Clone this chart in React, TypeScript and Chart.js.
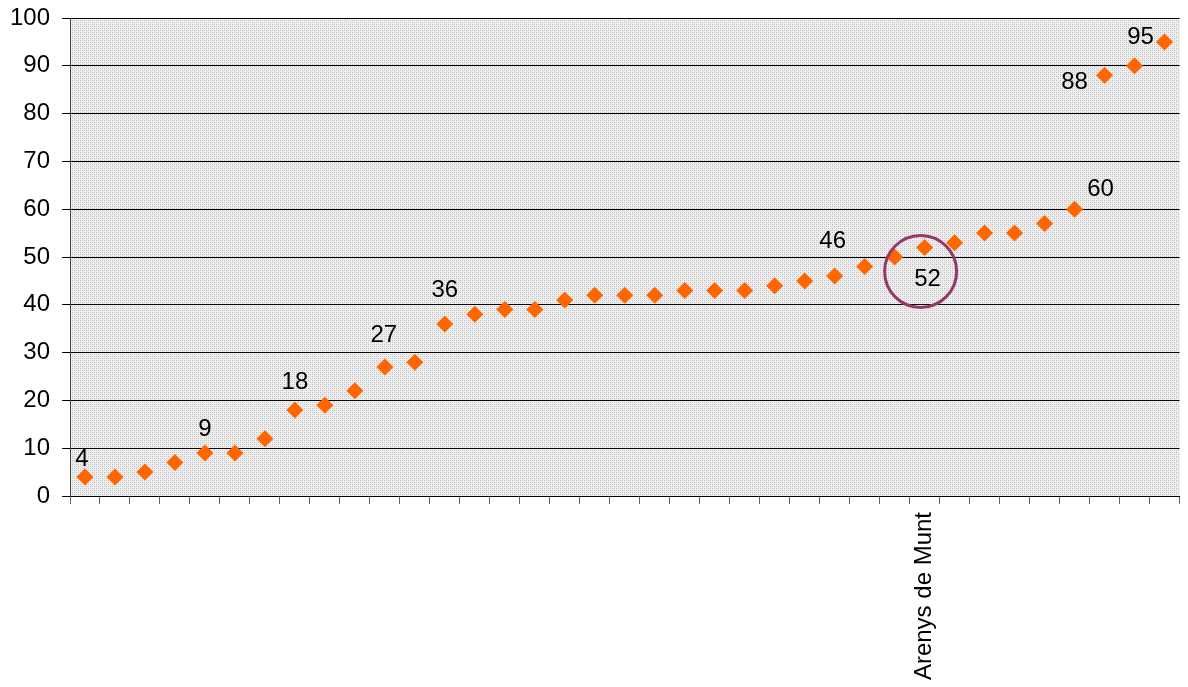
import React, { useEffect, useRef } from "react";
import { Chart, registerables } from "chart.js";

Chart.register(...registerables);

const categories: string[] = [
  "", "", "", "", "", "", "", "", "", "",
  "", "", "", "", "", "", "", "", "", "",
  "", "", "", "", "", "", "", "", "Arenys de Munt", "",
  "", "", "", "", "", "", "",
];

const values: number[] = [
  4, 4, 5, 7, 9, 9, 12, 18, 19, 22,
  27, 28, 36, 38, 39, 39, 41, 42, 42, 42,
  43, 43, 43, 44, 45, 46, 48, 50, 52, 53,
  55, 55, 57, 60, 88, 90, 95,
];

const yTicks: number[] = [0, 10, 20, 30, 40, 50, 60, 70, 80, 90, 100];

// indices of points that carry a value label
const labelledIndices: number[] = [0, 4, 7, 10, 12, 25, 28, 33, 34, 36];
// pixel offsets (dx, dy) of each label from its point
const labelOffsets: [number, number][] = [
  [-3, -18], [0, -24], [0, -28], [-1, -32], [0, -34],
  [-2, -35], [3, 32], [26, -20], [-30, 7], [-24, -5],
];

const highlightIndex = 28;

const FONT = "'Liberation Sans', Arial, sans-serif";

function makePattern(ctx: CanvasRenderingContext2D): CanvasPattern | string {
  const c = document.createElement("canvas");
  c.width = 4;
  c.height = 4;
  const p = c.getContext("2d");
  if (!p) return "#e0e0e0";
  p.fillStyle = "#eeeeee";
  p.fillRect(0, 0, 4, 4);
  p.fillStyle = "#bdbdbd";
  p.fillRect(0, 0, 1, 1);
  p.fillRect(2, 2, 1, 1);
  p.fillStyle = "#d4d4d4";
  p.fillRect(2, 0, 1, 1);
  p.fillRect(0, 2, 1, 1);
  const pat = ctx.createPattern(c, "repeat");
  return pat || "#e0e0e0";
}

const backgroundPlugin = {
  id: "areaBg",
  beforeDraw(chart: any) {
    const { ctx, chartArea } = chart;
    ctx.save();
    ctx.fillStyle = makePattern(ctx);
    ctx.fillRect(chartArea.left, chartArea.top, chartArea.right - chartArea.left, chartArea.bottom - chartArea.top);
    ctx.restore();
  },
};

const labelPlugin = {
  id: "valueLabels",
  afterDatasetsDraw(chart: any) {
    const { ctx } = chart;
    const meta = chart.getDatasetMeta(0);
    ctx.save();
    const hp = meta.data[highlightIndex];
    if (hp) {
      ctx.beginPath();
      ctx.strokeStyle = "#953767";
      ctx.lineWidth = 3;
      ctx.arc(hp.x - 4, hp.y + 24, 36, 0, Math.PI * 2);
      ctx.stroke();
    }
    ctx.fillStyle = "#000";
    ctx.font = `24px ${FONT}`;
    ctx.textAlign = "center";
    ctx.textBaseline = "middle";
    labelledIndices.forEach((idx, k) => {
      const pt = meta.data[idx];
      if (!pt) return;
      const [dx, dy] = labelOffsets[k];
      ctx.fillText(String(values[idx]), pt.x + dx, pt.y + dy);
    });
    ctx.restore();
  },
};

export default function App() {
  const canvasRef = useRef<HTMLCanvasElement | null>(null);

  useEffect(() => {
    if (!canvasRef.current) return;
    const chart = new Chart(canvasRef.current, {
      type: "line",
      data: {
        labels: categories,
        datasets: [
          {
            data: values,
            showLine: false,
            pointStyle: "rectRot",
            pointRadius: 8.5,
            pointHoverRadius: 8.5,
            pointBackgroundColor: "#ff6600",
            pointBorderColor: "#ff6600",
            pointBorderWidth: 0,
          },
        ],
      },
      options: {
        animation: false,
        responsive: true,
        maintainAspectRatio: false,
        layout: { padding: { left: 10, right: 6, top: 18, bottom: 7 } },
        plugins: {
          legend: { display: false },
          tooltip: { enabled: false },
        },
        scales: {
          x: {
            type: "category",
            offset: true,
            afterFit(scale: any) {
              scale.paddingLeft = 0;
              scale.paddingRight = 0;
              scale.height = 184;
            },
            grid: {
              offset: true,
              drawOnChartArea: false,
              drawTicks: true,
              tickLength: 8,
              color: "#666",
            },
            border: { color: "#000", width: 1 },
            ticks: {
              autoSkip: false,
              maxRotation: 90,
              minRotation: 90,
              padding: 8,
              color: "#000",
              font: { family: FONT, size: 24 },
            },
          },
          y: {
            min: 0,
            max: 100,
            afterBuildTicks(scale: any) {
              scale.ticks = yTicks.map((v) => ({ value: v }));
            },
            afterFit(scale: any) {
              scale.paddingTop = 0;
              scale.paddingBottom = 0;
              scale.width = 60;
            },
            grid: {
              color: "#000",
              lineWidth: 1,
              drawTicks: true,
              tickLength: 8,
            },
            border: { color: "#444", width: 1 },
            ticks: {
              padding: 12,
              color: "#000",
              font: { family: FONT, size: 24 },
            },
          },
        },
      },
      plugins: [backgroundPlugin, labelPlugin],
    });
    return () => chart.destroy();
  }, []);

  return (
    <div style={{ position: "fixed", left: 0, top: 0, width: 1188, height: 687 }}>
      <canvas ref={canvasRef} />
    </div>
  );
}
